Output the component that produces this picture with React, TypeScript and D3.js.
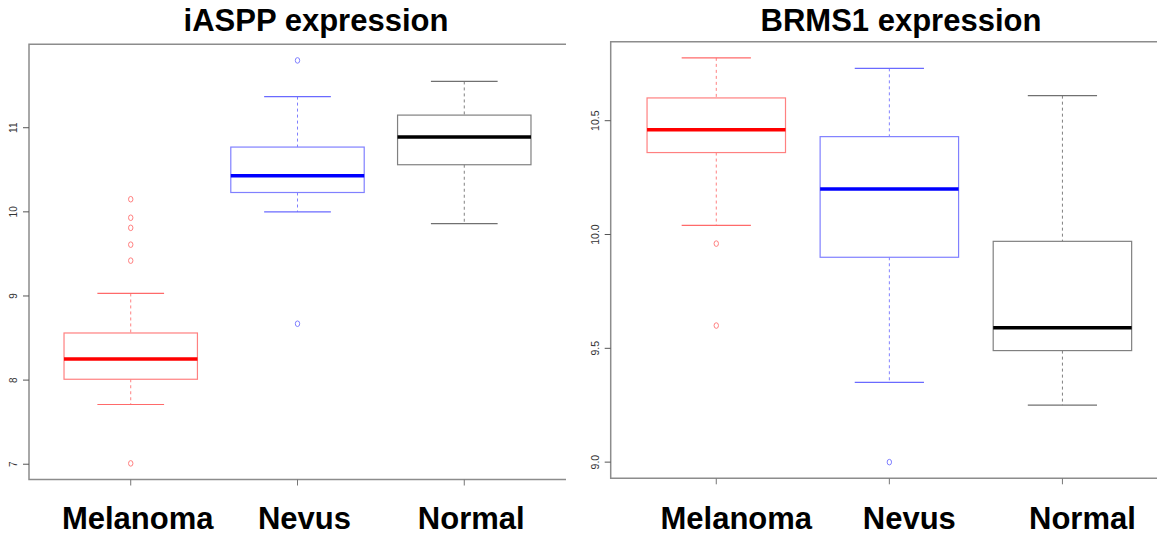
import * as d3 from "d3";

// groups shared by both panels
const categories = ["Melanoma", "Nevus", "Normal"];

// iASPP expression
const iasppLow = [7.71, 10.0, 9.86];
const iasppQ1 = [8.01, 10.23, 10.56];
const iasppMedian = [8.25, 10.43, 10.89];
const iasppQ3 = [8.56, 10.77, 11.15];
const iasppHigh = [9.03, 11.37, 11.55];
const iasppOutliers = [[10.15, 9.93, 9.81, 9.61, 9.42, 7.01], [11.8, 8.67], []];
const iasppTicks = [7, 8, 9, 10, 11];

// BRMS1 expression, right panel
const brmsLow = [10.04, 9.35, 9.25];
const brmsQ1 = [10.36, 9.9, 9.49];
const brmsMedian = [10.46, 10.2, 9.59];
const brmsQ3 = [10.6, 10.43, 9.97];
const brmsHigh = [10.776, 10.73, 10.61];
const brmsOutliers = [[9.96, 9.6], [9.0], []];
const brmsTicks = [9.0, 9.5, 10.0, 10.5];

const boxColor = ["#ff8080", "#8080ff", "#808080"];
const medianColor = ["#ff0000", "#0000ff", "#000000"];
const capColor = ["#ff6a6a", "#6a6aff", "#707070"];
const FONT = "'Liberation Sans', Arial, Helvetica, sans-serif";

type PanelProps = {
  title: string;
  titleX: number;
  low: number[];
  q1: number[];
  median: number[];
  q3: number[];
  high: number[];
  outliers: number[][];
  ticks: number[];
  tickFormat: (v: number) => string;
  frame: { left: number; right: number; top: number; bottom: number };
  tickLabelX: number;
  tickFont: number;
  labelShift: number;
};

const Panel = (p: PanelProps) => {
  const { frame } = p;
  // R-style range: data extent stretched by 4% each side
  const all = [...p.low, ...p.high, ...p.outliers.flat()];
  const [mn, mx] = d3.extent(all) as [number, number];
  const pad = (mx - mn) * 0.04;
  const y = d3.scaleLinear().domain([mn - pad, mx + pad]).range([frame.bottom, frame.top]);
  const x = d3.scalePoint<string>().domain(categories).range([frame.left, frame.right]).padding(0.61);
  const bw = x.step() * 0.8;

  return (
    <g>
      <text x={p.titleX} y={31} textAnchor="middle" fontFamily={FONT} fontWeight="bold" fontSize={31}>
        {p.title}
      </text>
      <path
        d={`M${frame.right},${frame.top}H${frame.left}V${frame.bottom}H${frame.right}`}
        fill="none"
        stroke="#8c8c8c"
        strokeWidth={1.5}
      />
      {p.ticks.map((t) => (
        <g key={t}>
          <line x1={frame.left - 6} x2={frame.left} y1={y(t)} y2={y(t)} stroke="#555" />
          <text
            transform={`translate(${p.tickLabelX},${y(t)}) rotate(-90)`}
            textAnchor="middle"
            dy="0.35em"
            fontFamily={FONT}
            fontSize={p.tickFont}
            fill="#333"
          >
            {p.tickFormat(t)}
          </text>
        </g>
      ))}
      {categories.map((c, i) => {
        const cx = x(c) as number;
        return (
          <g key={c}>
            <line x1={cx} x2={cx} y1={frame.bottom} y2={frame.bottom + 6} stroke="#777" />
            {/* whiskers */}
            <line x1={cx} x2={cx} y1={y(p.high[i])} y2={y(p.q3[i])} stroke={boxColor[i]} strokeDasharray="3,3" />
            <line x1={cx} x2={cx} y1={y(p.q1[i])} y2={y(p.low[i])} stroke={boxColor[i]} strokeDasharray="3,3" />
            <line x1={cx - bw / 4} x2={cx + bw / 4} y1={y(p.high[i])} y2={y(p.high[i])} stroke={capColor[i]} strokeWidth={1.2} />
            <line x1={cx - bw / 4} x2={cx + bw / 4} y1={y(p.low[i])} y2={y(p.low[i])} stroke={capColor[i]} strokeWidth={1.2} />
            <rect
              x={cx - bw / 2}
              y={y(p.q3[i])}
              width={bw}
              height={y(p.q1[i]) - y(p.q3[i])}
              fill="none"
              stroke={boxColor[i]}
              strokeWidth={1.2}
            />
            <line
              x1={cx - bw / 2}
              x2={cx + bw / 2}
              y1={y(p.median[i])}
              y2={y(p.median[i])}
              stroke={medianColor[i]}
              strokeWidth={3.5}
            />
            {p.outliers[i].map((o, k) => (
              <ellipse key={k} cx={cx} cy={y(o)} rx={2.2} ry={2.8} fill="none" stroke={boxColor[i]} strokeWidth={1} />
            ))}
            <text
              x={cx + p.labelShift}
              y={529}
              textAnchor="middle"
              fontFamily={FONT}
              fontWeight="bold"
              fontSize={31}
            >
              {c}
            </text>
          </g>
        );
      })}
    </g>
  );
};

export default function App() {
  return (
    <div style={{ position: "absolute", left: 0, top: 0 }}>
      <svg width={1157} height={535} style={{ display: "block", background: "#fff" }}>
        <Panel
          title="iASPP expression"
          titleX={316}
          low={iasppLow}
          q1={iasppQ1}
          median={iasppMedian}
          q3={iasppQ3}
          high={iasppHigh}
          outliers={iasppOutliers}
          ticks={iasppTicks}
          tickFormat={d3.format("d")}
          frame={{ left: 29, right: 566, top: 44.3, bottom: 479.5 }}
          tickLabelX={13}
          tickFont={10}
          labelShift={7}
        />
        <Panel
          title="BRMS1 expression"
          titleX={901}
          low={brmsLow}
          q1={brmsQ1}
          median={brmsMedian}
          q3={brmsQ3}
          high={brmsHigh}
          outliers={brmsOutliers}
          ticks={brmsTicks}
          tickFormat={d3.format(".1f")}
          frame={{ left: 610.7, right: 1168, top: 41.7, bottom: 478.3 }}
          tickLabelX={595}
          tickFont={10.5}
          labelShift={20}
        />
      </svg>
    </div>
  );
}
